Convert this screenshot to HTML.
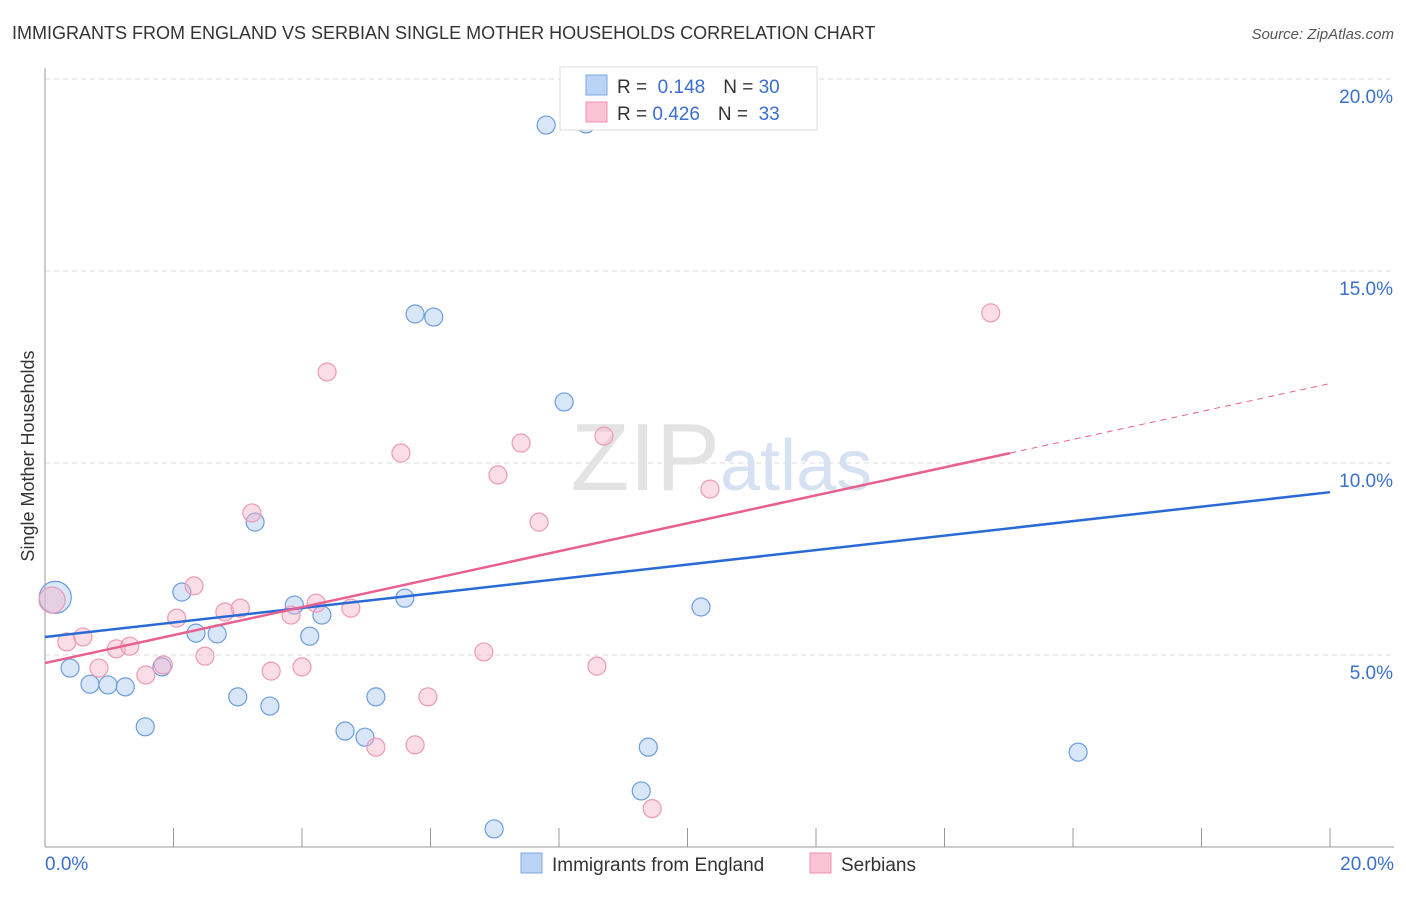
<!DOCTYPE html>
<html><head><meta charset="utf-8"><style>
body{margin:0;background:#fff;font-family:"Liberation Sans",sans-serif;}
svg text{font-family:"Liberation Sans",sans-serif;}
</style></head><body>
<svg id="chart" width="1406" height="892" xmlns="http://www.w3.org/2000/svg">
<text x="12" y="39" font-size="18" fill="#333">IMMIGRANTS FROM ENGLAND VS SERBIAN SINGLE MOTHER HOUSEHOLDS CORRELATION CHART</text>
<text x="1394" y="39" font-size="15" fill="#555" font-style="italic" text-anchor="end">Source: ZipAtlas.com</text>
<g id="grid"></g>
<g id="axes"></g>
<text x="720" y="490" font-size="96" fill="#e3e3e3" text-anchor="end" font-family="Liberation Serif">ZIP</text>
<text x="720" y="490" font-size="72" fill="#d6e2f2">atlas</text>
<g id="pts"></g>
<g id="lines"></g>
<text transform="translate(34,456) rotate(-90)" font-size="18" fill="#333" text-anchor="middle">Single Mother Households</text>
<g>
<rect x="560" y="67" width="257" height="63" fill="#fff" stroke="#ddd"/>
<rect x="586" y="75" width="21" height="20" fill="#b9d3f5" stroke="#7aa7e6"/>
<rect x="586" y="102" width="21" height="20" fill="#f8c4d4" stroke="#ee8fb0"/>
<text x="617" y="93" font-size="19" fill="#333">R = <tspan fill="#3a6fd0">&#160;0.148</tspan><tspan dx="18">N = </tspan><tspan fill="#3a6fd0">30</tspan></text>
<text x="617" y="120" font-size="19" fill="#333">R = <tspan fill="#3a6fd0">0.426</tspan><tspan dx="18">N = </tspan><tspan fill="#3a6fd0">&#160;33</tspan></text>
</g>
<g>
<rect x="521" y="853" width="21" height="20" fill="#b9d3f5" stroke="#7aa7e6"/>
<text x="552" y="871" font-size="19" fill="#333">Immigrants from England</text>
<rect x="810" y="853" width="21" height="20" fill="#f8c4d4" stroke="#ee8fb0"/>
<text x="841" y="871" font-size="19" fill="#333">Serbians</text>
</g>
</svg>
<script>
const yTicks=[5,10,15,20];
const yTickLabels=["5.0%","10.0%","15.0%","20.0%"];
const xTickLabels=["0.0%","20.0%"];
const englandX=[0.16,0.39,0.7,0.98,1.25,1.56,1.82,2.13,2.35,2.68,3.0,3.27,3.5,3.88,4.12,4.31,4.67,4.98,5.15,5.6,5.76,6.05,6.99,7.8,8.08,8.42,9.28,9.39,10.21,16.08];
const englandY=[6.5,4.66,4.24,4.22,4.17,3.13,4.69,6.64,5.57,5.55,3.91,8.46,3.67,6.3,5.49,6.04,3.02,2.86,3.91,6.48,13.88,13.8,0.47,18.8,11.59,18.83,1.46,2.6,6.25,2.47];
const englandR=[16,9,9,9,9,9,9,9,9,9,9,9,9,9,9,9,9,9,9,9,9,9,9,9,9,9,9,9,9,9];
const serbX=[0.11,0.34,0.59,0.84,1.11,1.32,1.57,1.84,2.05,2.32,2.49,2.8,3.04,3.22,3.52,3.83,4.0,4.22,4.39,4.76,5.15,5.54,5.76,5.96,6.83,7.05,7.41,7.69,8.59,8.7,9.45,10.35,14.72];
const serbY=[6.43,5.34,5.47,4.66,5.16,5.23,4.48,4.74,5.96,6.8,4.97,6.12,6.22,8.7,4.58,6.04,4.69,6.35,12.37,6.22,2.6,10.26,2.66,3.91,5.08,9.69,10.52,8.46,4.71,10.7,1.0,9.32,13.91];
const serbR=[13,9,9,9,9,9,9,9,9,9,9,9,9,9,9,9,9,9,9,9,9,9,9,9,9,9,9,9,9,9,9,9,9];
const englandTrend=[5.47,9.24];
const serbTrend=[4.79,12.07];
const serbSolidEnd=15.02;
const NS="http://www.w3.org/2000/svg";
const X0=45,X1=1330,Y0=847,Y1=79;
const sx=v=>X0+(X1-X0)*v/20, sy=v=>Y0-(Y0-Y1)*v/20;
function mk(t,a,p){const e=document.createElementNS(NS,t);for(const k in a)e.setAttribute(k,a[k]);p.appendChild(e);return e;}
const grid=document.getElementById('grid'),axes=document.getElementById('axes');
yTicks.forEach((t,i)=>{
 const l=mk('line',{x1:X0,x2:1394,y1:sy(t),y2:sy(t),stroke:'#ddd','stroke-dasharray':'5,4'},grid);
 
 
 const tx=mk('text',{x:1393,y:sy(t)+24,'font-size':19,fill:'#3a6fd0','text-anchor':'end'},axes);
 tx.textContent=yTickLabels[i];
 
 
});
const ax=mk('line',{x1:X0,x2:1394,y1:Y0,y2:Y0,stroke:'#999'},axes);


const ay=mk('line',{x1:X0,x2:X0,y1:68,y2:Y0,stroke:'#999'},axes);


for(let i=0;i<=10;i++){const t=mk('line',{x1:sx(i*2),x2:sx(i*2),y1:Y0,y2:828,stroke:'#999'},axes);
 
 }
[[0,'start',45],[20,'end',1394]].forEach((d,i)=>{const t=mk('text',{x:d[2],y:870,'font-size':19,fill:'#3a6fd0','text-anchor':d[1]},axes);t.textContent=xTickLabels[i];
 
 });
const pts=document.getElementById('pts');
englandX.forEach((v,i)=>{const c=mk('circle',{cx:sx(v),cy:sy(englandY[i]),r:englandR[i],fill:'rgba(170,200,240,0.45)',stroke:'#6b9de0','stroke-width':1.2},pts);
 
 });
serbX.forEach((v,i)=>{const c=mk('circle',{cx:sx(v),cy:sy(serbY[i]),r:serbR[i],fill:'rgba(245,180,200,0.45)',stroke:'#ec9ab5','stroke-width':1.2},pts);
 
 });
const lines=document.getElementById('lines');
const bl=mk('line',{x1:sx(0),y1:sy(englandTrend[0]),x2:sx(20),y2:sy(englandTrend[1]),stroke:'#2a6ad6','stroke-width':2.5},lines);


const sAt=v=>serbTrend[0]+(serbTrend[1]-serbTrend[0])*v/20;
const pl=mk('line',{x1:sx(0),y1:sy(sAt(0)),x2:sx(serbSolidEnd),y2:sy(sAt(serbSolidEnd)),stroke:'#e8608e','stroke-width':2.5},lines);


const pd=mk('line',{x1:sx(serbSolidEnd),y1:sy(sAt(serbSolidEnd)),x2:sx(20),y2:sy(sAt(20)),stroke:'#e8608e','stroke-width':1,'stroke-dasharray':'6,5'},lines);


</script>
</body></html>
